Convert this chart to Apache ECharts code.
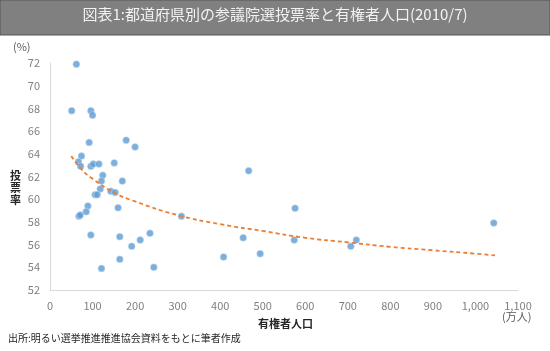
<!DOCTYPE html>
<html>
<head>
<meta charset="utf-8">
<script src="https://cdn.jsdelivr.net/npm/echarts@6/dist/echarts.min.js"></script>
<style>
  html, body { margin: 0; padding: 0; background: #fff; }
  #chart { width: 550px; height: 351px; }
</style>
</head>
<body>
<div id="chart"></div>
<script>
// 有権者人口(万人), 投票率(%)
const voters = [62, 51, 96, 100, 92, 179, 200, 74, 67, 72, 96, 102, 115, 151, 124, 121, 170, 118,
    106, 111, 143, 153, 160, 89, 85, 68, 71, 309, 96, 164, 235, 212, 192, 164, 121, 244, 408, 454,
    467, 494, 576, 574, 1043, 720, 707];
const turnout = [71.9, 67.8, 67.8, 67.4, 65.0, 65.2, 64.6, 63.8, 63.3, 62.9, 62.9, 63.1, 63.1, 63.2,
    62.1, 61.6, 61.6, 60.9, 60.4, 60.4, 60.7, 60.6, 59.25, 59.4, 58.9, 58.5, 58.6, 58.5, 56.85, 56.7,
    57.0, 56.4, 55.85, 54.7, 53.9, 54.0, 54.9, 56.6, 62.5, 55.2, 59.2, 56.4, 57.9, 56.4, 55.85];

// 近似曲線(対数)
const trend_x = [50, 75, 100, 150, 200, 300, 400, 500, 600, 700, 800, 900, 1000, 1046];
const trend_y = [63.8, 62.6, 61.8, 60.6, 59.8, 58.6, 57.8, 57.2, 56.6, 56.2, 55.8, 55.5, 55.2, 55.05];

const x_ticks = [0, 100, 200, 300, 400, 500, 600, 700, 800, 900, 1000, 1100];

const chart = echarts.init(document.getElementById('chart'));
const font = '"Noto Sans CJK JP", sans-serif';

chart.setOption({
    animation: false,
    textStyle: { fontFamily: font },
    graphic: [
        { type: 'rect', shape: { x: 0, y: 0, width: 550, height: 35 },
          style: { fill: '#808080', stroke: '#555', lineWidth: 1 } },
        { type: 'text', left: 'center', top: 7,
          style: { text: '図表1:都道府県別の参議院選投票率と有権者人口(2010/7)', fill: '#f2f2f2',
                   font: '15px ' + font } },
        { type: 'text', left: 13, top: 41,
          style: { text: '(%)', fill: '#595959', font: '11px ' + font } },
        { type: 'text', left: 10, top: 170,
          style: { text: '投\n票\n率', fill: '#262626', font: 'bold 11px ' + font, lineHeight: 12 } },
        { type: 'text', left: 258, top: 318,
          style: { text: '有権者人口', fill: '#262626', font: 'bold 11px ' + font } },
        { type: 'text', left: 502, top: 311,
          style: { text: '(万人)', fill: '#595959', font: '11px ' + font } },
        { type: 'text', left: 8, top: 333,
          style: { text: '出所:明るい選挙推進推進協会資料をもとに筆者作成', fill: '#262626', font: '10px ' + font } }
    ],
    grid: { left: 50, right: 32, top: 63, bottom: 61 },
    xAxis: {
        type: 'value', min: 0, max: 1100, interval: 100,
        axisLine: { lineStyle: { color: '#d9d9d9', width: 1 } },
        axisTick: { show: false },
        splitLine: { show: false },
        axisLabel: { color: '#808080', fontSize: 11, margin: 10,
                     formatter: v => x_ticks.includes(v) ? v.toLocaleString('en-US') : '' }
    },
    yAxis: {
        type: 'value', min: 52, max: 72, interval: 2,
        axisLine: { show: true, lineStyle: { color: '#d9d9d9', width: 1 } },
        axisTick: { show: false },
        splitLine: { show: false },
        axisLabel: { color: '#808080', fontSize: 11, margin: 10 }
    },
    series: [
        {
            type: 'scatter',
            data: voters.map((v, i) => [v, turnout[i]]),
            symbolSize: 7,
            itemStyle: { color: '#5b9bd5', borderColor: '#dfe6ee', borderWidth: 0.6 }
        },
        {
            type: 'line',
            data: trend_x.map((v, i) => [v, trend_y[i]]),
            smooth: true,
            symbol: 'none',
            lineStyle: { color: '#ed7d31', width: 1.8, type: [4, 3] }
        }
    ]
});
</script>
</body>
</html>
